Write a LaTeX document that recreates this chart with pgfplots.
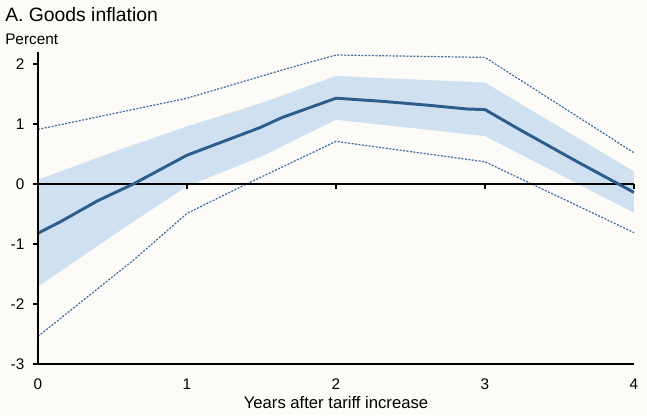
\documentclass[border=0pt]{standalone}
\usepackage{fontspec}
\setmainfont{Liberation Sans}
\usepackage{pgfplots}
\pgfplotsset{compat=1.18}

\definecolor{bg}{HTML}{FCFBF8}
\definecolor{mainblue}{HTML}{2D5D8C}
\definecolor{bandblue}{HTML}{CFE0F1}
\definecolor{dotblue}{HTML}{3D6C9E}

\begin{document}
\begin{tikzpicture}
% background, 1px = 0.75pt, axis origin at (38px,364px)
\fill[bg] (-28.5pt,-38.25pt) rectangle (456.75pt,273pt);
\begin{axis}[
  scale only axis,
  width=447pt, height=234pt,
  xmin=0, xmax=4, ymin=-3, ymax=2.2,
  axis on top,
  axis x line*=bottom, axis y line*=left,
  axis line style={black, line width=0.8pt},
  xtick={0,1,2,3,4},
  xtick style={draw=none},
  xticklabel style={yshift=-7.5pt},
  ytick={-3,-2,-1,0,1,2},
  yticklabels={-3,-2,-1,0,1,2},
  ytick align=outside,
  ytick style={black, line width=0.8pt},
  major tick length=3.75pt,
  yticklabel style={xshift=-3pt},
  tick label style={font=\fontsize{11.5}{13}\selectfont},
  /pgf/number format/assume math mode=true,
  clip=false,
]
% confidence band: upper edge left to right, lower edge right to left
\addplot[fill=bandblue, draw=none] coordinates {
  (0,0.07) (0.5,0.53) (1,0.96) (1.5,1.35) (2,1.80) (3,1.69) (4,0.21)
  (4,-0.48) (3,0.80) (2,1.07) (1.5,0.46) (1,-0.04) (0.62,-0.66) (0,-1.71)
} -- cycle;
% outer bounds
\addplot[dotblue, line width=0.9pt, dash pattern=on 1.5pt off 1.1pt] coordinates {
  (0,0.91) (1,1.43) (1.68,1.93) (2,2.15) (3,2.11) (4,0.52)
};
\addplot[dotblue, line width=0.9pt, dash pattern=on 1.5pt off 1.1pt] coordinates {
  (0,-2.54) (0.64,-1.27) (1,-0.49) (1.4,0.0) (2,0.71) (3,0.37) (4,-0.81)
};
% zero line with ticks
\addplot[black, line width=0.8pt] coordinates {(0,0) (4,0)};
\addplot[black, line width=0.8pt, ycomb] coordinates {
  (1,-0.08) (2,-0.08) (3,-0.08) (4,-0.08)
};
% point estimate
\addplot[mainblue, line width=2.2pt] coordinates {
  (0,-0.82) (0.15,-0.63) (0.4,-0.28) (0.64,0.0) (1,0.48) (1.49,0.94)
  (1.64,1.11) (2,1.43) (2.3,1.38) (2.63,1.31) (2.88,1.25) (3,1.24)
  (3.23,0.91) (3.62,0.37) (4,-0.14)
};
\end{axis}
\node[anchor=base west, inner sep=0pt, font=\fontsize{14.5}{17}\selectfont] at (-24.75pt,256.5pt) {A. Goods inflation};
\node[anchor=base west, inner sep=0pt, font=\fontsize{11.5}{13}\selectfont] at (-24.75pt,239.25pt) {Percent};
\node[anchor=base, inner sep=0pt, font=\fontsize{12.5}{14}\selectfont] at (223.5pt,-33pt) {Years after tariff increase};
\end{tikzpicture}
\end{document}
